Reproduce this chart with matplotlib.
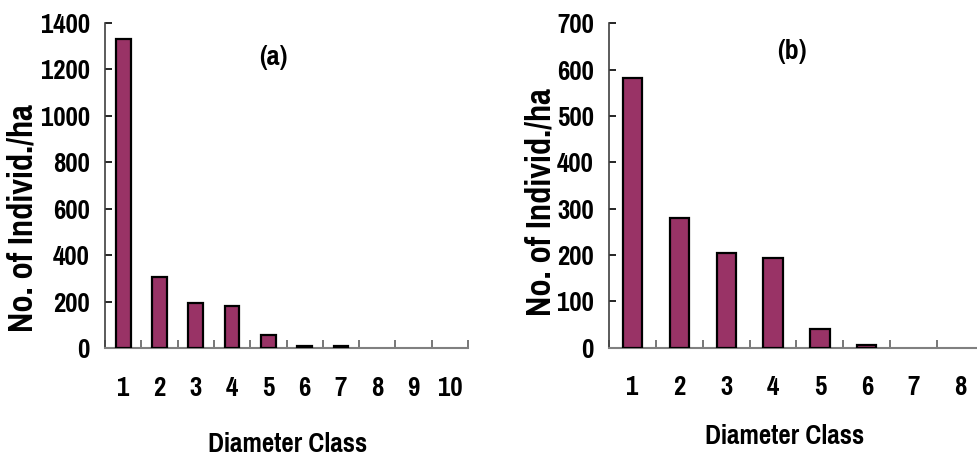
import matplotlib
matplotlib.use("Agg")
import matplotlib.pyplot as plt
import numpy as np

# 값은 그림에서 읽은 추정치
classes_a = [1, 2, 3, 4, 5, 6, 7, 8, 9, 10]
counts_a = [1330, 307, 192, 182, 56, 10, 10, 0, 0, 0]
classes_b = [1, 2, 3, 4, 5, 6, 7, 8]
counts_b = [581, 279, 205, 194, 40, 5, 0, 0]
yticks_a = [0, 200, 400, 600, 800, 1000, 1200, 1400]
yticks_b = [0, 100, 200, 300, 400, 500, 600, 700]

BAR = "#993366"
FONT = ["Pragati Narrow", "PT Sans Narrow", "DejaVu Sans"]
plt.rcParams["font.family"] = FONT
plt.rcParams["font.weight"] = "bold"
FS = 21

W, H = 978, 458
fig = plt.figure(figsize=(W / 100, H / 100), dpi=100)


def px(x0, y0, x1, y1):
    # 픽셀 박스 -> figure 비율
    return [x0 / W, 1 - y1 / H, (x1 - x0) / W, (y1 - y0) / H]


def panel(rect, cats, vals, yt, tag, tag_xy, xl_xy, yl_xy):
    ax = fig.add_axes(rect)
    n = len(cats)
    ec = ["black" if v > 0 else "none" for v in vals]
    ax.bar(cats, vals, width=0.41, color=BAR, edgecolor=ec, lw=1.6, zorder=3)
    ax.set_xlim(0.5, n + 0.5)
    ax.set_ylim(yt[0], yt[-1])
    ax.set_yticks(yt)
    ax.set_xticks(cats)
    ax.set_xticks(np.arange(0.5, n + 1, 1.0), minor=True)
    ax.tick_params(axis="x", which="major", length=0, pad=20, labelsize=FS)
    ax.tick_params(axis="x", which="minor", direction="in", length=6, width=1.2,
                   color="#606060")
    ax.tick_params(axis="y", direction="in", length=5, width=1.2, pad=11,
                   labelsize=FS)
    for s in ("top", "right"):
        ax.spines[s].set_visible(False)
    ax.spines["bottom"].set_color("#808080")
    ax.spines["bottom"].set_linewidth(1.5)
    ax.spines["left"].set_color("#404040")
    ax.spines["left"].set_linewidth(1.2)
    for lab in ax.get_xticklabels() + ax.get_yticklabels():
        lab.set_fontweight("bold")
    fig.text(tag_xy[0] / W, 1 - tag_xy[1] / H, tag, ha="center", va="center",
             fontsize=22, fontweight="bold")
    fig.text(xl_xy[0] / W, 1 - xl_xy[1] / H, "Diameter Class", ha="center",
             va="center", fontsize=FS, fontweight="bold")
    fig.text(yl_xy[0] / W, 1 - yl_xy[1] / H, "No. of Individ./ha", ha="center",
             va="center", rotation=90, fontsize=27, fontweight="bold")
    return ax


panel(px(105, 23, 468, 348), classes_a, counts_a, yticks_a, "(a)",
      (273, 58), (288, 444), (23, 218))
panel(px(609, 23.3, 984, 347.7), classes_b, counts_b, yticks_b, "(b)",
      (792, 52), (785, 437), (541, 202))

fig.savefig("out.png", dpi=100)
